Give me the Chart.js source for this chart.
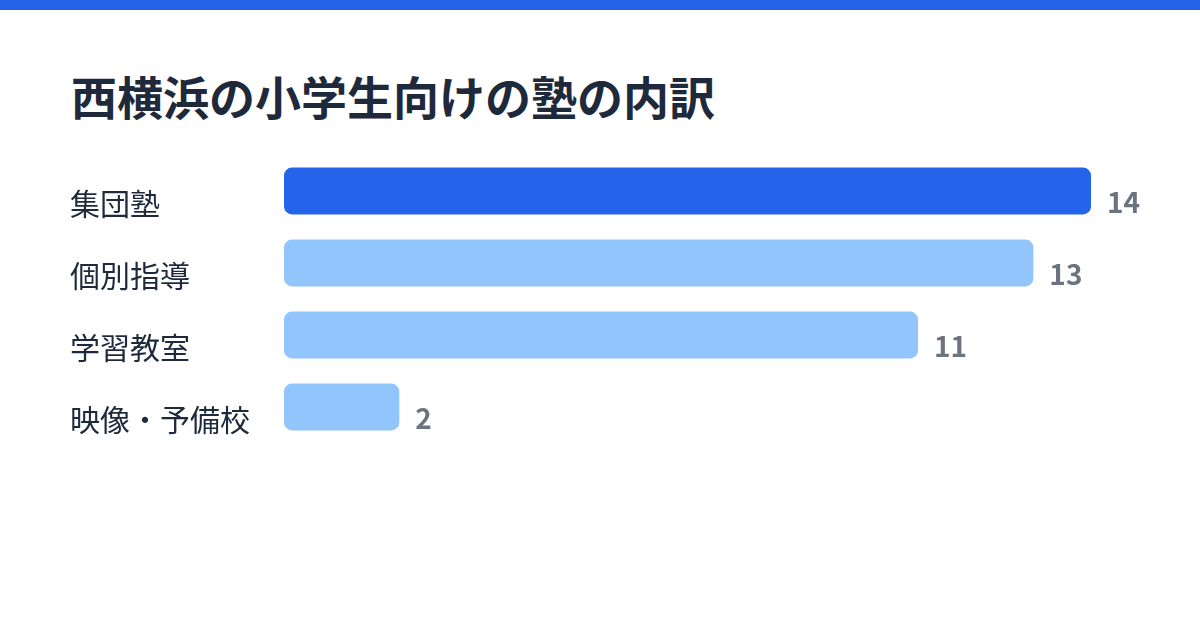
<!DOCTYPE html>
<html lang="ja">
<head>
<meta charset="utf-8">
<script src="https://cdn.jsdelivr.net/npm/chart.js@4"></script>
<style>
  html, body { margin: 0; padding: 0; background: #ffffff; }
  body { width: 1200px; height: 630px; position: relative; overflow: hidden; font-family: "Noto Sans CJK JP", "Noto Sans", sans-serif; }
  #topbar { position: absolute; left: 0; top: 0; width: 1200px; height: 10px; background: #2563eb; }
  #title { position: absolute; left: 71px; top: 72px; margin: 0; font-size: 46px; line-height: 46px; font-weight: 700; color: #1e293b; white-space: nowrap; }
  #wrap { position: absolute; left: 0; top: 0; width: 1200px; height: 630px; }
</style>
</head>
<body>
<div id="topbar"></div>
<h1 id="title">西横浜の小学生向けの塾の内訳</h1>
<div id="wrap"><canvas id="chart" width="1200" height="630"></canvas></div>
<script>
const categories = ["集団塾", "個別指導", "学習教室", "映像・予備校"];
const counts = [14, 13, 11, 2];
const barColors = ["#2563eb", "#93c5fd", "#93c5fd", "#93c5fd"];

const valueLabels = {
  id: "valueLabels",
  afterDatasetsDraw(chart) {
    const ctx = chart.ctx;
    const meta = chart.getDatasetMeta(0);
    ctx.save();
    ctx.font = "700 28px 'Noto Sans CJK JP', 'Noto Sans', sans-serif";
    ctx.fillStyle = "#6b7280";
    ctx.textAlign = "left";
    ctx.textBaseline = "middle";
    meta.data.forEach((bar, i) => {
      ctx.fillText(String(counts[i]), bar.x + 16, bar.y + 11);
    });
    ctx.restore();
  }
};

new Chart(document.getElementById("chart"), {
  type: "bar",
  data: {
    labels: categories,
    datasets: [{
      data: counts,
      backgroundColor: barColors,
      borderRadius: 8,
      borderSkipped: false,
      categoryPercentage: 1,
      barPercentage: 0.65
    }]
  },
  options: {
    indexAxis: "y",
    responsive: false,
    animation: false,
    devicePixelRatio: 1,
    layout: { padding: { left: 70, right: 109, top: 155, bottom: 187 } },
    plugins: { legend: { display: false }, tooltip: { enabled: false }, title: { display: false } },
    scales: {
      x: { display: false, min: 0, max: 14 },
      y: {
        display: true,
        grid: { display: false, drawTicks: false },
        border: { display: false },
        afterFit(scale) { scale.width = 214; },
        ticks: {
          crossAlign: "far",
          padding: 0,
          labelOffset: 13,
          color: "#1e293b",
          font: { family: "'Noto Sans CJK JP', 'Noto Sans', sans-serif", size: 30, weight: "400" }
        }
      }
    }
  },
  plugins: [valueLabels]
});
</script>
</body>
</html>
